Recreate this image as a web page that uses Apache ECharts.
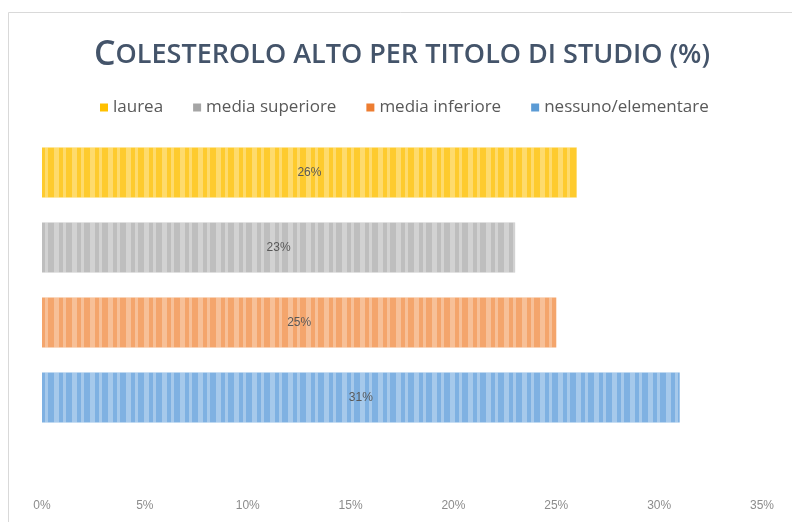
<!DOCTYPE html>
<html lang="it">
  <head>
    <meta charset="utf-8" />
    <title>Colesterolo alto per titolo di studio</title>
    <script src="https://cdn.jsdelivr.net/npm/echarts@6/dist/echarts.min.js"></script>
    <style>
      html, body { margin: 0; padding: 0; background: #fff; }
      #chart { width: 792px; height: 522px; }
    </style>
  </head>
  <body>
    <div id="chart"></div>
    <script type="text/javascript">
      // dati
      const categorie = ["laurea", "media superiore", "media inferiore", "nessuno/elementare"];
      const valori = [26, 23, 25, 31];
      const colori = ["#FFC000", "#A5A5A5", "#ED7D31", "#5B9BD5"];
      const coloriBarre = ["#FECB2E", "#BEBEBE", "#F4A56C", "#7FB1E2"];
      const tickLabels = ["0%", "5%", "10%", "15%", "20%", "25%", "30%", "35%"];

      const chart = echarts.init(document.getElementById("chart"));

      const series = categorie.map((nome, i) => {
        const data = categorie.map((c, j) => (j === i ? valori[i] : null));
        return {
          name: nome,
          type: "bar",
          stack: "tot",
          barWidth: 50,
          data: data,
          itemStyle: {
            color: coloriBarre[i],
            decal: {
              symbol: "rect",
              color: "rgba(255,255,255,0.3)",
              dashArrayX: [[5, 4, 3, 6]],
              dashArrayY: [1, 0],
              rotation: 0,
              symbolSize: 1,
            },
          },
          label: {
            show: true,
            position: "inside",
            formatter: "{c}%",
            color: "#595959",
            fontFamily: "Liberation Sans Narrow, Liberation Sans",
            fontSize: 12,
          },
        };
      });

      const opt = {
        animation: false,
        graphic: [
          {
            type: "rect",
            shape: { x: 8.5, y: 12.5, width: 800, height: 600 },
            style: { fill: "none", stroke: "#d9d9d9", lineWidth: 1 },
            silent: true,
          },
        ],
        title: {
          left: 397,
          textAlign: "center",
          top: 33,
          text: "{a|C}{b|OLESTEROLO ALTO PER TITOLO DI STUDIO (%)}",
          textStyle: {
            rich: {
              a: {
                fontFamily: "Open Sans",
                fontWeight: 600,
                fontSize: 34,
                color: "#44546A",
              },
              b: {
                fontFamily: "Open Sans",
                fontWeight: 600,
                fontSize: 27,
                color: "#44546A",
              },
            },
          },
        },
        legend: {
          top: 94,
          left: 95,
          itemWidth: 8,
          itemHeight: 8,
          itemGap: 30,
          icon: "rect",
          data: categorie.map((c, i) => ({ name: c, itemStyle: { color: colori[i], decal: "none" } })),
          textStyle: {
            color: "#595959",
            fontFamily: "Open Sans",
            fontSize: 17,
          },
        },
        grid: {
          left: 42,
          right: 30,
          top: 135,
          bottom: 87,
        },
        xAxis: {
          type: "value",
          min: 0,
          max: 35,
          interval: 5,
          axisLine: { show: false },
          axisTick: { show: false },
          splitLine: { show: false },
          axisLabel: {
            margin: 65,
            color: "#8c8c8c",
            fontFamily: "Liberation Sans Narrow, Liberation Sans",
            fontSize: 12,
            formatter: (v) => tickLabels[v / 5],
          },
        },
        yAxis: {
          type: "category",
          inverse: true,
          data: categorie,
          axisLine: { show: false },
          axisTick: { show: false },
          axisLabel: { show: false },
        },
        series: series,
      };
      chart.setOption(opt);
    </script>
  </body>
</html>
